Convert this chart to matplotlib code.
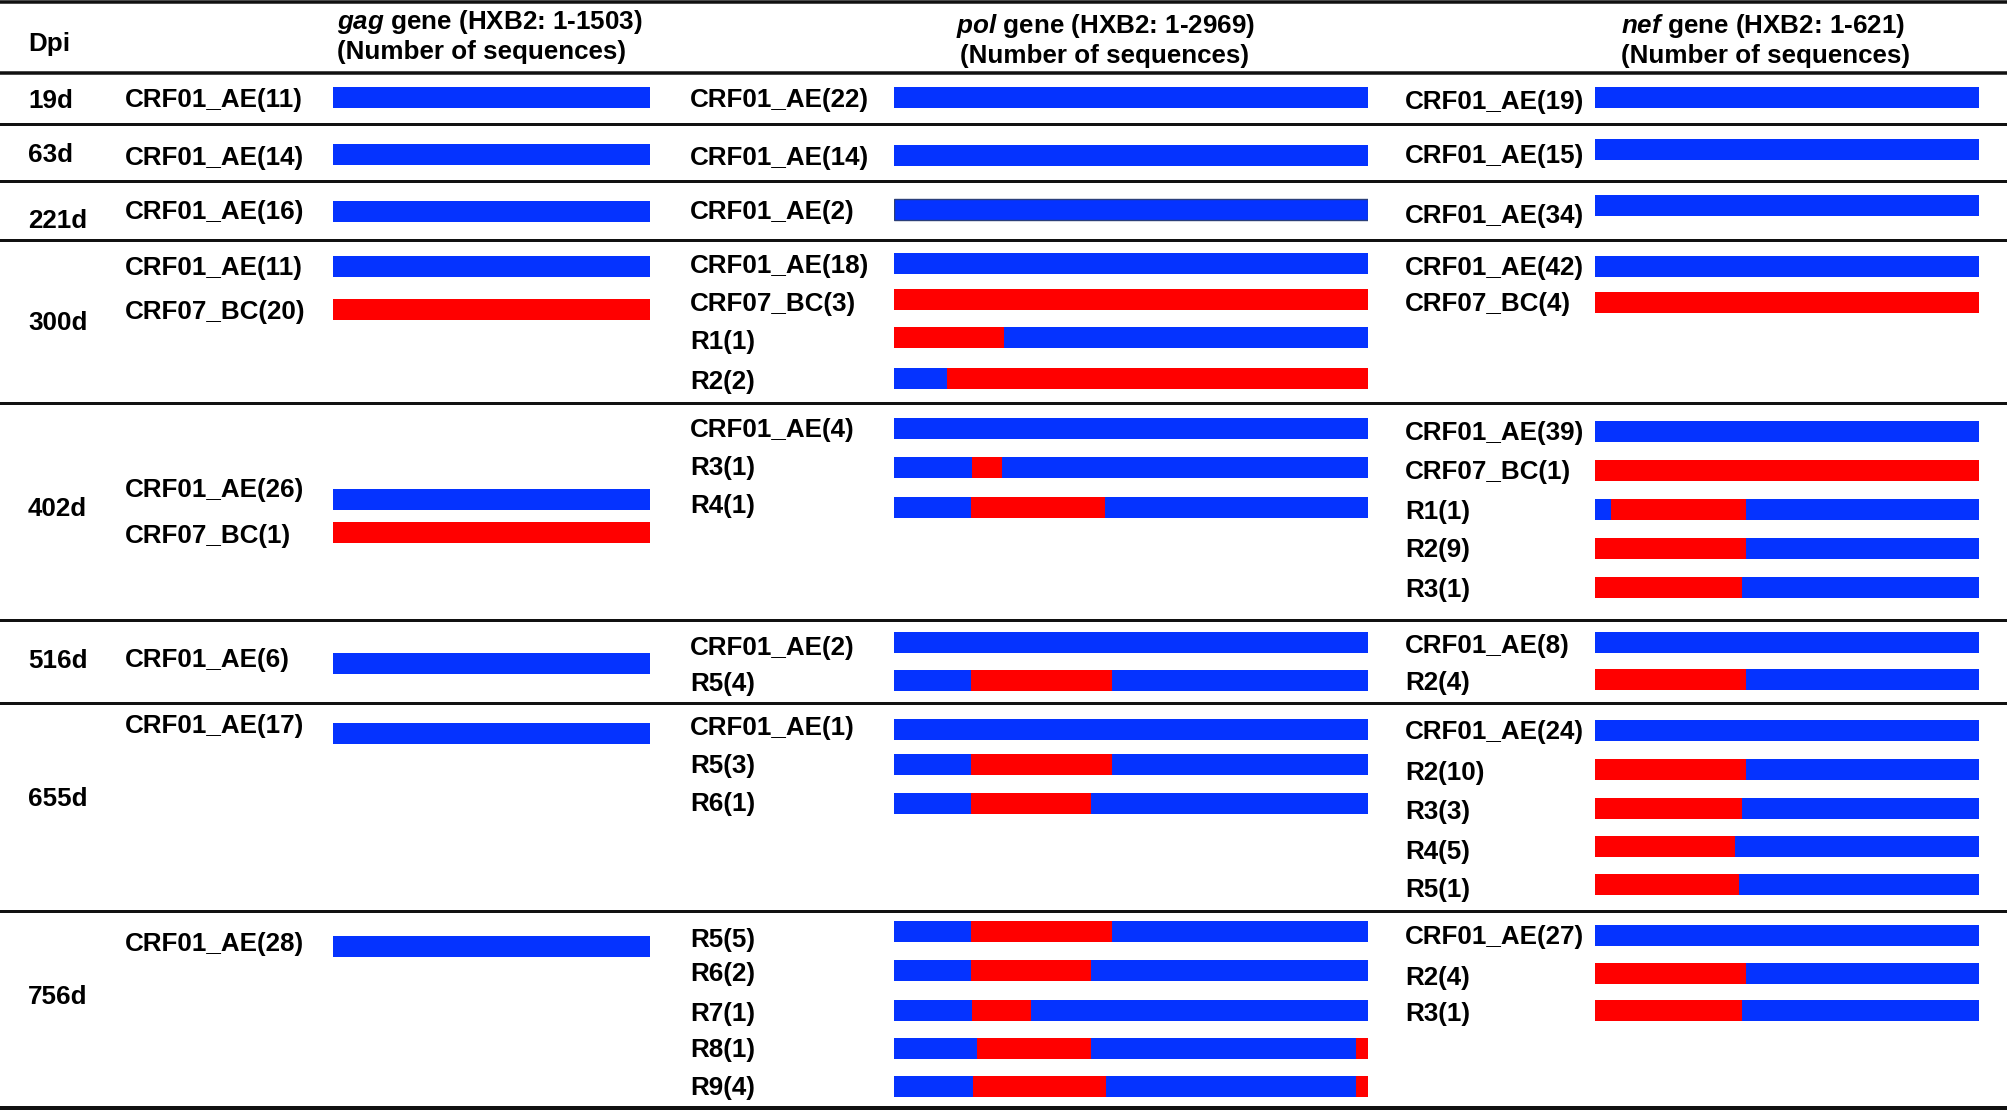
import matplotlib
matplotlib.use("Agg")
import matplotlib.pyplot as plt

# ------------------------------------------------------------------ DATA
dpi_labels = ["19d", "63d", "221d", "300d", "402d", "516d", "655d", "756d"]

gene_names = ["gag", "pol", "nef"]
gene_length = {"gag": 1503, "pol": 2969, "nef": 621}

# sequence groups per Dpi (name) and number of sequences (count)
gag_names = [["CRF01_AE"], ["CRF01_AE"], ["CRF01_AE"], ["CRF01_AE", "CRF07_BC"],
             ["CRF01_AE", "CRF07_BC"], ["CRF01_AE"], ["CRF01_AE"], ["CRF01_AE"]]
gag_counts = [[11], [14], [16], [11, 20], [26, 1], [6], [17], [28]]

pol_names = [["CRF01_AE"], ["CRF01_AE"], ["CRF01_AE"],
             ["CRF01_AE", "CRF07_BC", "R1", "R2"],
             ["CRF01_AE", "R3", "R4"],
             ["CRF01_AE", "R5"],
             ["CRF01_AE", "R5", "R6"],
             ["R5", "R6", "R7", "R8", "R9"]]
pol_counts = [[22], [14], [2], [18, 3, 1, 2], [4, 1, 1], [2, 4], [1, 3, 1], [5, 2, 1, 1, 4]]

nef_names = [["CRF01_AE"], ["CRF01_AE"], ["CRF01_AE"],
             ["CRF01_AE", "CRF07_BC"],
             ["CRF01_AE", "CRF07_BC", "R1", "R2", "R3"],
             ["CRF01_AE", "R2"],
             ["CRF01_AE", "R2", "R3", "R4", "R5"],
             ["CRF01_AE", "R2", "R3"]]
nef_counts = [[19], [15], [34], [42, 4], [39, 1, 1, 9, 1], [8, 4], [24, 10, 3, 5, 1], [27, 4, 1]]

# CRF07_BC-derived segments (HXB2 start, end); the rest of each gene is CRF01_AE
gag_bc = {"CRF01_AE": [], "CRF07_BC": [(1, 1503)]}
pol_bc = {"CRF01_AE": [], "CRF07_BC": [(1, 2969)],
          "R1": [(1, 691)], "R2": [(330, 2969)],
          "R3": [(489, 675)], "R4": [(485, 1322)],
          "R5": [(485, 1366)], "R6": [(485, 1236)],
          "R7": [(489, 861)], "R8": [(523, 1236), (2892, 2969)],
          "R9": [(493, 1329), (2892, 2969)]}
nef_bc = {"CRF01_AE": [], "CRF07_BC": [(1, 621)],
          "R1": [(27, 245)], "R2": [(1, 245)], "R3": [(1, 238)],
          "R4": [(1, 226)], "R5": [(1, 233)]}

names = {"gag": gag_names, "pol": pol_names, "nef": nef_names}
counts = {"gag": gag_counts, "pol": pol_counts, "nef": nef_counts}
bc_segments = {"gag": gag_bc, "pol": pol_bc, "nef": nef_bc}

# ------------------------------------------------------------------ LAYOUT (pixels)
W, H = 2008, 1110
BAR_X = {"gag": (333, 650), "pol": (894, 1368), "nef": (1595, 1979)}
LABEL_X = {"gag": 125, "pol": 690, "nef": 1405}
DPI_X = 28
BAR_H = 21

BAR_Y = {
    "gag": [[97.5], [154.5], [211], [266.5, 309.5], [499, 532], [663.7], [733], [946]],
    "pol": [[97], [155], [209.7], [263.5, 299.7, 337.7, 378], [428.7, 467.2, 507],
            [642.7, 680], [729.3, 764, 803.7], [931, 970.5, 1010.5, 1048.3, 1086.7]],
    "nef": [[97.5], [149], [205], [266.3, 302.3], [431, 470, 509.5, 548.3, 587.5],
            [642, 679.5], [730.5, 769.8, 808, 846.5, 884.8], [935, 973, 1010.5]],
}
LABEL_Y = {
    "gag": [[98], [155], [210], [266, 310], [487, 533], [658], [724], [942]],
    "pol": [[97], [155], [210], [264, 301, 340, 379], [428, 466, 504],
            [645.5, 682], [726, 763, 801], [937, 972, 1011, 1047, 1085.5]],
    "nef": [[100], [153], [213], [265, 302], [430.5, 469.4, 509.4, 548, 587],
            [643, 680.5], [729, 770.5, 809.4, 849.4, 887], [934.4, 976, 1012]],
}
DPI_Y = [98, 153, 218, 320, 506, 659, 796, 994]
HLINES = [(1.5, 3.5), (72.5, 3.5), (124, 3), (181, 3), (239.5, 3), (402.5, 3),
          (620, 3), (703, 3), (910.5, 3), (1108, 4)]

BLUE = "#0533FF"
RED = "#FF0000"
FS = 18.7

plt.rcParams["font.family"] = ["Liberation Sans", "DejaVu Sans"]
plt.rcParams["font.weight"] = "bold"
plt.rcParams["mathtext.fontset"] = "custom"
plt.rcParams["mathtext.it"] = "Liberation Sans:italic:bold"
plt.rcParams["mathtext.rm"] = "Liberation Sans:bold"
plt.rcParams["mathtext.bf"] = "Liberation Sans:bold"

fig = plt.figure(figsize=(W / 100, H / 100), dpi=100)
fig.patch.set_facecolor("white")

ax0 = fig.add_axes([0, 0, 1, 1])
ax0.set_xlim(0, W)
ax0.set_ylim(H, 0)
ax0.axis("off")

# horizontal rules
for y, lw_px in HLINES:
    ax0.axhline(y, color="#111111", lw=lw_px * 0.72, zorder=1)

# headers
ax0.text(DPI_X, 41, "Dpi", fontsize=FS, fontweight="bold", va="center_baseline", ha="left")
header_pos = {"gag": (337, "left", 18, 49), "pol": (1105, "center", 22, 53),
              "nef": (1621, "left", 22, 53)}
for g in gene_names:
    x, ha, y1, y2 = header_pos[g]
    ax0.text(x, y1, r"$\mathit{%s}$ gene (HXB2: 1-%d)" % (g, gene_length[g]),
             fontsize=FS, fontweight="bold", ha=ha, va="center_baseline")
    ax0.text(x, y2, "(Number of sequences)", fontsize=FS, fontweight="bold",
             ha=ha, va="center_baseline")

# Dpi labels
for lab, y in zip(dpi_labels, DPI_Y):
    ax0.text(DPI_X, y, lab, fontsize=FS, fontweight="bold", ha="left", va="center_baseline")

# gene panels
for g in gene_names:
    x0, x1 = BAR_X[g]
    ax = fig.add_axes([x0 / W, 0, (x1 - x0) / W, 1])
    ax.set_xlim(0, gene_length[g])
    ax.set_ylim(H, 0)
    ax.axis("off")
    ax.patch.set_visible(False)
    for i in range(len(dpi_labels)):
        for name, n, yb, yl in zip(names[g][i], counts[g][i], BAR_Y[g][i], LABEL_Y[g][i]):
            ax0.text(LABEL_X[g], yl, f"{name}({n})", fontsize=FS, fontweight="bold",
                     ha="left", va="center_baseline")
            edge = "#2b3f7a" if (g == "pol" and dpi_labels[i] == "221d") else BLUE
            ax.barh(yb, gene_length[g], left=0, height=BAR_H, color=BLUE,
                    edgecolor=edge, linewidth=1.0 if edge != BLUE else 0)
            for s, e in bc_segments[g][name]:
                ax.barh(yb, e - s + 1, left=s - 1, height=BAR_H, color=RED, linewidth=0)

fig.savefig("out.png", dpi=100, facecolor="white")
